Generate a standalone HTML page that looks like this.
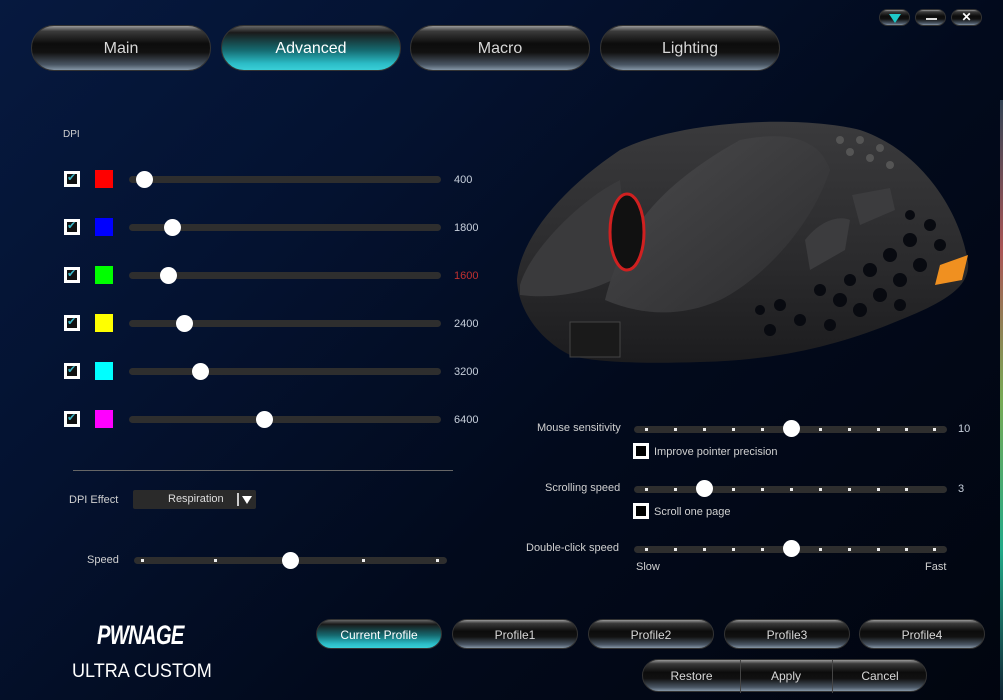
<!DOCTYPE html>
<html><head><style>
*{margin:0;padding:0;box-sizing:border-box}
body{width:1003px;height:700px;overflow:hidden;position:relative;font-family:"Liberation Sans",sans-serif;color:#ddd;
background:linear-gradient(135deg,#06193f 0%,#041230 30%,#020a1c 60%,#01050f 100%)}
.a{position:absolute}
.pill{position:absolute;border-radius:24px;border:1px solid #333;text-align:center;color:#d8d8d8;
background:linear-gradient(#999 0%,#3a3a3a 12%,#0c0c0c 40%,#111 60%,#4a5664 88%,#8596a6 100%)}
.pill.on{background:linear-gradient(#666 0%,#1a1a1a 15%,#156a70 55%,#2bbcc6 85%,#3ad0d8 100%);color:#fff}
.tab{top:25px;height:46px;width:180px;line-height:46px;font-size:16px}
.pb{top:619px;height:30px;width:126px;line-height:30px;font-size:12px;border-radius:15px}
.cb{position:absolute;width:16px;height:16px;background:#fff;}
.cb::after{content:"";position:absolute;left:3px;top:3px;width:10px;height:10px;background:#111}
.cb::before{content:"✔";position:absolute;left:3px;top:0px;font-size:11px;color:#3bb8c8;z-index:2}
.sq{position:absolute;width:18px;height:18px}
.tr{position:absolute;height:7px;background:#2e2e2e;border-radius:4px}
.kn{position:absolute;width:17px;height:17px;border-radius:50%;background:#fff}
.v{position:absolute;font-size:11px;color:#c8d0dc}
.lb{position:absolute;font-size:11px;color:#d0d0d0}
.dot{position:absolute;width:3px;height:3px;background:#eee}
.ecb{position:absolute;width:16px;height:16px;border:3px solid #fff;background:#000}
</style></head><body>
<div class="a" style="left:1000px;top:100px;width:3px;height:600px;background:linear-gradient(#345,#a55,#7a5,#2a8,#123)"></div>

<div class="pill tab" style="left:31px">Main</div>
<div class="pill tab on" style="left:221px">Advanced</div>
<div class="pill tab" style="left:410px">Macro</div>
<div class="pill tab" style="left:600px">Lighting</div>

<div class="pill" style="left:879px;top:9px;width:31px;height:17px;border-radius:9px"><div class="a" style="left:9px;top:4px;border-left:6px solid transparent;border-right:6px solid transparent;border-top:9px solid #1ec8c8"></div></div>
<div class="pill" style="left:915px;top:9px;width:31px;height:17px;border-radius:9px"><div class="a" style="left:10px;top:8px;width:11px;height:2px;background:#ddd"></div></div>
<div class="pill" style="left:951px;top:9px;width:31px;height:17px;border-radius:9px;font-size:12px;line-height:15px;font-weight:bold;color:#fff">✕</div>

<div class="lb" style="left:63px;top:129px;font-size:10px">DPI</div>

<div class="cb" style="left:64px;top:171px"></div><div class="sq" style="left:95px;top:170px;background:#f00"></div><div class="tr" style="left:129px;top:176px;width:312px"></div><div class="kn" style="left:136px;top:171px"></div><div class="v" style="left:454px;top:174px">400</div>
<div class="cb" style="left:64px;top:219px"></div><div class="sq" style="left:95px;top:218px;background:#00f"></div><div class="tr" style="left:129px;top:224px;width:312px"></div><div class="kn" style="left:164px;top:219px"></div><div class="v" style="left:454px;top:222px">1800</div>
<div class="cb" style="left:64px;top:267px"></div><div class="sq" style="left:95px;top:266px;background:#0f0"></div><div class="tr" style="left:129px;top:272px;width:312px"></div><div class="kn" style="left:160px;top:267px"></div><div class="v" style="left:454px;top:270px;color:#c03030">1600</div>
<div class="cb" style="left:64px;top:315px"></div><div class="sq" style="left:95px;top:314px;background:#ff0"></div><div class="tr" style="left:129px;top:320px;width:312px"></div><div class="kn" style="left:176px;top:315px"></div><div class="v" style="left:454px;top:318px">2400</div>
<div class="cb" style="left:64px;top:363px"></div><div class="sq" style="left:95px;top:362px;background:#0ff"></div><div class="tr" style="left:129px;top:368px;width:312px"></div><div class="kn" style="left:192px;top:363px"></div><div class="v" style="left:454px;top:366px">3200</div>
<div class="cb" style="left:64px;top:411px"></div><div class="sq" style="left:95px;top:410px;background:#f0f"></div><div class="tr" style="left:129px;top:416px;width:312px"></div><div class="kn" style="left:256px;top:411px"></div><div class="v" style="left:454px;top:414px">6400</div>

<div class="a" style="left:73px;top:470px;width:380px;height:1px;background:#666"></div>
<div class="lb" style="left:69px;top:494px">DPI Effect</div>
<div class="a" style="left:133px;top:490px;width:123px;height:19px;background:#2a2a2a;border-radius:2px;font-size:11px;line-height:19px;color:#ddd"><span class="a" style="left:35px;top:0">Respiration</span><span class="a" style="left:104px;top:3px;width:2px;height:13px;background:#ccc"></span><span class="a" style="left:109px;top:6px;border-left:5px solid transparent;border-right:5px solid transparent;border-top:8px solid #fff"></span></div>

<div class="lb" style="left:87px;top:554px">Speed</div>
<div class="tr" style="left:134px;top:557px;width:313px"></div>
<div class="dot" style="left:141px;top:559px"></div><div class="dot" style="left:214px;top:559px"></div><div class="dot" style="left:362px;top:559px"></div><div class="dot" style="left:436px;top:559px"></div>
<div class="kn" style="left:282px;top:552px"></div>

<div class="a" style="left:97px;top:620px;font-size:27px;font-weight:bold;font-style:italic;color:#fff;letter-spacing:-1px;transform:scaleX(.75);transform-origin:left">PWNAGE</div>
<div class="a" style="left:72px;top:661px;font-size:19px;color:#fff;white-space:nowrap;transform:scaleX(.95);transform-origin:left">ULTRA CUSTOM</div>

<!-- mouse -->
<svg class="a" style="left:0;top:0" width="1003" height="700">
<defs><linearGradient id="g" x1="0" y1="0" x2="0" y2="1"><stop offset="0" stop-color="#3a3a3c"/><stop offset=".6" stop-color="#2a2a2c"/><stop offset="1" stop-color="#1c1c1e"/></linearGradient>
<linearGradient id="h" x1="0" y1="0" x2="1" y2="1"><stop offset="0" stop-color="#4a4a4c"/><stop offset="1" stop-color="#2c2c2e"/></linearGradient></defs>
<path d="M517,280 C520,240 560,190 620,150 C680,120 800,115 860,130 C920,150 960,210 968,262 C970,285 950,300 900,320 C840,345 780,360 700,362 C640,364 590,362 570,355 C540,340 518,310 517,280Z" fill="url(#g)"/>
<path d="M520,285 C530,250 580,200 620,180 L630,270 C600,290 560,300 520,295Z" fill="#3a3a3c"/>
<path d="M605,300 C620,240 650,190 740,140 C790,130 820,140 830,170 C810,230 760,280 720,300 C680,318 640,315 605,300Z" fill="url(#h)"/>
<ellipse cx="627" cy="232" rx="17" ry="38" fill="#111" stroke="#d02020" stroke-width="3"/>
<path d="M940,265 L968,255 L962,280 L935,285Z" fill="#f09020"/>
<rect x="570" y="322" width="50" height="35" fill="#1a1a1a" stroke="#444"/>
<path d="M805,240 C820,220 840,215 850,220 L845,250 L810,270Z" fill="#3c3c3e"/>
<path d="M852,195 L890,188 L895,210 L860,225Z" fill="#3c3c3e"/>
<g fill="#080a10">
<circle cx="870" cy="270" r="7"/><circle cx="890" cy="255" r="7"/><circle cx="910" cy="240" r="7"/><circle cx="930" cy="225" r="6"/>
<circle cx="880" cy="295" r="7"/><circle cx="900" cy="280" r="7"/><circle cx="920" cy="265" r="7"/><circle cx="940" cy="245" r="6"/>
<circle cx="860" cy="310" r="7"/><circle cx="840" cy="300" r="7"/><circle cx="820" cy="290" r="6"/><circle cx="800" cy="320" r="6"/>
<circle cx="770" cy="330" r="6"/><circle cx="780" cy="305" r="6"/><circle cx="850" cy="280" r="6"/><circle cx="830" cy="325" r="6"/>
<circle cx="760" cy="310" r="5"/><circle cx="900" cy="305" r="6"/><circle cx="910" cy="215" r="5"/>
</g>
<g fill="#555">
<circle cx="840" cy="140" r="4"/><circle cx="860" cy="140" r="4"/><circle cx="880" cy="148" r="4"/><circle cx="850" cy="152" r="4"/><circle cx="870" cy="158" r="4"/><circle cx="890" cy="165" r="4"/>
</g>
</svg>

<div class="lb" style="left:537px;top:422px">Mouse sensitivity</div>
<div class="tr" style="left:634px;top:426px;width:313px"></div>
<div class="lb" style="left:545px;top:482px">Scrolling speed</div>
<div class="tr" style="left:634px;top:486px;width:313px"></div>
<div class="lb" style="left:526px;top:542px">Double-click speed</div>
<div class="tr" style="left:634px;top:546px;width:313px"></div>
<div class="kn" style="left:783px;top:420px"></div>
<div class="kn" style="left:696px;top:480px"></div>
<div class="kn" style="left:783px;top:540px"></div>
<div class="v" style="left:958px;top:423px">10</div>
<div class="v" style="left:958px;top:483px">3</div>
<div class="ecb" style="left:633px;top:443px"></div><div class="lb" style="left:654px;top:446px">Improve pointer precision</div>
<div class="ecb" style="left:633px;top:503px"></div><div class="lb" style="left:654px;top:506px">Scroll one page</div>
<div class="lb" style="left:636px;top:561px">Slow</div><div class="lb" style="left:925px;top:561px">Fast</div>

<div class="pill pb on" style="left:316px">Current Profile</div>
<div class="pill pb" style="left:452px">Profile1</div>
<div class="pill pb" style="left:588px">Profile2</div>
<div class="pill pb" style="left:724px">Profile3</div>
<div class="pill pb" style="left:859px">Profile4</div>

<div class="pill" style="left:642px;top:659px;width:285px;height:33px;border-radius:17px;font-size:12px;line-height:33px">
<span class="a" style="left:0;width:97px">Restore</span><span class="a" style="left:97px;top:0;width:1px;height:33px;background:#444"></span>
<span class="a" style="left:97px;width:92px">Apply</span><span class="a" style="left:189px;top:0;width:1px;height:33px;background:#444"></span>
<span class="a" style="left:189px;width:96px">Cancel</span></div>

<div class="dot" style="left:645px;top:428px"></div><div class="dot" style="left:674px;top:428px"></div><div class="dot" style="left:703px;top:428px"></div><div class="dot" style="left:732px;top:428px"></div><div class="dot" style="left:761px;top:428px"></div><div class="dot" style="left:819px;top:428px"></div><div class="dot" style="left:848px;top:428px"></div><div class="dot" style="left:877px;top:428px"></div><div class="dot" style="left:905px;top:428px"></div><div class="dot" style="left:933px;top:428px"></div>
<div class="dot" style="left:645px;top:488px"></div><div class="dot" style="left:674px;top:488px"></div><div class="dot" style="left:732px;top:488px"></div><div class="dot" style="left:761px;top:488px"></div><div class="dot" style="left:790px;top:488px"></div><div class="dot" style="left:819px;top:488px"></div><div class="dot" style="left:848px;top:488px"></div><div class="dot" style="left:877px;top:488px"></div><div class="dot" style="left:905px;top:488px"></div>
<div class="dot" style="left:645px;top:548px"></div><div class="dot" style="left:674px;top:548px"></div><div class="dot" style="left:703px;top:548px"></div><div class="dot" style="left:732px;top:548px"></div><div class="dot" style="left:761px;top:548px"></div><div class="dot" style="left:819px;top:548px"></div><div class="dot" style="left:848px;top:548px"></div><div class="dot" style="left:877px;top:548px"></div><div class="dot" style="left:905px;top:548px"></div><div class="dot" style="left:933px;top:548px"></div>
</body></html>
